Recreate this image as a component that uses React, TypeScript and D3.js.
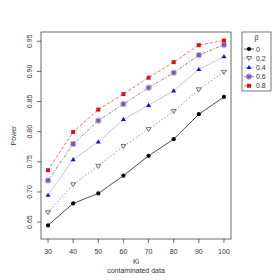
import React from 'react';
import * as d3 from 'd3';

const ki = [30, 40, 50, 60, 70, 80, 90, 100];
const beta0 = [0.6445, 0.681, 0.6975, 0.727, 0.76, 0.7876, 0.829, 0.8576];
const beta02 = [0.666, 0.7124, 0.743, 0.776, 0.804, 0.8338, 0.87, 0.899];
const beta04 = [0.6947, 0.7538, 0.783, 0.8205, 0.8437, 0.868, 0.9033, 0.9248];
const beta06 = [0.719, 0.7797, 0.8183, 0.8459, 0.873, 0.8978, 0.927, 0.9442];
const beta08 = [0.736, 0.7995, 0.8366, 0.8624, 0.8896, 0.9154, 0.9436, 0.9513];
const betaLabels = ['0', '0.2', '0.4', '0.6', '0.8'];
const yTicks = [0.65, 0.7, 0.75, 0.8, 0.85, 0.9, 0.95];

const series = [
  { label: betaLabels[0], values: beta0, line: '#3a3a3a', dash: '', shape: 'dot', color: '#000' },
  { label: betaLabels[1], values: beta02, line: '#8a8a8a', dash: '1.5,2', shape: 'tri-down', color: '#666' },
  { label: betaLabels[2], values: beta04, line: '#b8b8ff', dash: '', shape: 'tri', color: '#1010dd' },
  { label: betaLabels[3], values: beta06, line: '#7f6aa8', dash: '3,1.5,1,1.5', shape: 'sq-circ', color: '#7a5aa8' },
  { label: betaLabels[4], values: beta08, line: '#f05a5a', dash: '3,2', shape: 'sq', color: '#e01010' },
];

const font = 'Liberation Sans, Arial, sans-serif';

function Marker({ shape, color, x, y }: { shape: string; color: string; x: number; y: number }) {
  if (shape === 'dot') return <circle cx={x} cy={y} r={2.1} fill={color} />;
  if (shape === 'tri-down')
    return <path d={`M${x - 2.5},${y - 1.7}L${x + 2.5},${y - 1.7}L${x},${y + 2.4}Z`} fill="none" stroke={color} strokeWidth={0.9} />;
  if (shape === 'tri')
    return <path d={`M${x - 2.5},${y + 1.7}L${x + 2.5},${y + 1.7}L${x},${y - 2.5}Z`} fill={color} />;
  if (shape === 'sq') return <rect x={x - 2} y={y - 2} width={4} height={4} fill={color} />;
  return (
    <g>
      <rect x={x - 2.1} y={y - 2.1} width={4.2} height={4.2} fill={color} />
      <circle cx={x} cy={y} r={2.9} fill="none" stroke="#b09ad6" strokeWidth={0.8} />
    </g>
  );
}

export default function App() {
  const left = 41, right = 231, top = 32, bottom = 239;
  const x = d3.scaleLinear().domain([27.2, 102.8]).range([left, right]);
  const y = d3.scaleLinear().domain([0.6219, 0.9654]).range([bottom, top]);
  const line = d3.line<number>().x((_, i) => x(ki[i])).y((d) => y(d));

  return (
    <svg width={280} height={280} style={{ position: 'absolute', left: 0, top: 0, background: '#fff' }} fontFamily={font}>
      <rect x={left} y={top} width={right - left} height={bottom - top} fill="none" stroke="#444" strokeWidth={0.8} />
      {ki.map((k) => (
        <g key={k}>
          <line x1={x(k)} x2={x(k)} y1={bottom} y2={bottom + 4} stroke="#444" strokeWidth={0.8} />
          <text x={x(k)} y={bottom + 15} fontSize={7} textAnchor="middle" fill="#333">{k}</text>
        </g>
      ))}
      {yTicks.map((t) => (
        <g key={t}>
          <line x1={left - 4} x2={left} y1={y(t)} y2={y(t)} stroke="#444" strokeWidth={0.8} />
          <text transform={`translate(${left - 9},${y(t)}) rotate(-90)`} fontSize={7} textAnchor="middle" fill="#333">{t.toFixed(2)}</text>
        </g>
      ))}
      <text transform={`translate(16,${(top + bottom) / 2}) rotate(-90)`} fontSize={7} textAnchor="middle" fill="#333">Power</text>
      <text x={(left + right) / 2} y={264} fontSize={7} textAnchor="middle" fill="#333">Ki</text>
      <text x={(left + right) / 2} y={273} fontSize={7} textAnchor="middle" fill="#333">contaminated data</text>
      {series.map((s) => (
        <g key={s.label}>
          <path d={line(s.values) || ''} fill="none" stroke={s.line} strokeWidth={0.9} strokeDasharray={s.dash} />
          {s.values.map((v, i) => (
            <Marker key={i} shape={s.shape} color={s.color} x={x(ki[i])} y={y(v)} />
          ))}
        </g>
      ))}
      <rect x={242} y={32} width={29} height={59} fill="#fff" stroke="#555" strokeWidth={0.8} />
      <text x={256.5} y={40} fontSize={7} textAnchor="middle" fill="#333">β</text>
      {series.map((s, i) => {
        const ly = 49 + i * 9.2;
        return (
          <g key={s.label}>
            <line x1={244} x2={254} y1={ly} y2={ly} stroke={s.line} strokeWidth={0.9} strokeDasharray={s.dash} />
            <Marker shape={s.shape} color={s.color} x={249} y={ly} />
            <text x={256} y={ly + 2.5} fontSize={7} fill="#333">{s.label}</text>
          </g>
        );
      })}
    </svg>
  );
}
